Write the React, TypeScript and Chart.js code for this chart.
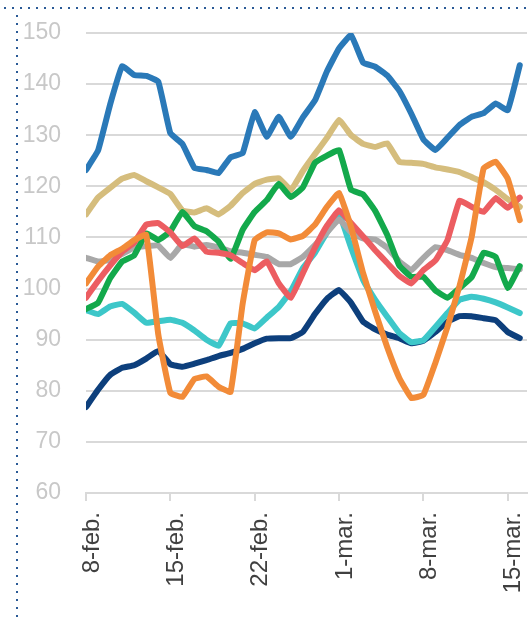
import React, { useEffect, useRef } from 'react';
import { Chart, registerables } from 'chart.js';

Chart.register(...registerables);

// x positions are day numbers counted from 8-feb (0) to 16-mar (36)
const tickDays = [0, 7, 14, 21, 28, 35];
const tickLabels = ['8-feb.', '15-feb.', '22-feb.', '1-mar.', '8-mar.', '15-mar.'];
const yTicks = [60, 70, 80, 90, 100, 110, 120, 130, 140, 150];

const blueSeries = [123.2, 127, 136, 143.5, 141.8, 141.6, 140.5, 130.4, 128.3, 123.6, 123.2, 122.6, 125.7, 126.5, 134.5, 129.7, 133.6, 129.7, 133.5, 136.8, 142.5, 147, 149.6, 144.2, 143.4, 141.7, 138.7, 134.2, 129.2, 127.1, 129.5, 132, 133.6, 134.3, 136.2, 134.9, 143.7];
const tanSeries = [114.5, 117.8, 119.7, 121.5, 122.2, 121, 119.8, 118.5, 115.3, 114.9, 115.7, 114.5, 116.2, 118.7, 120.5, 121.3, 121.6, 119.3, 123, 126.3, 129.5, 133, 130, 128.3, 127.7, 128.4, 124.8, 124.6, 124.4, 123.7, 123.3, 122.8, 121.8, 120.8, 119.3, 117.5, 116];
const greenSeries = [96, 97.2, 102, 105.3, 106.5, 110.8, 109.5, 111.2, 115, 112.2, 111.2, 109.2, 105.8, 111.5, 115, 117.3, 120.5, 117.9, 119.8, 124.6, 126, 127.1, 119.3, 118.4, 115.2, 110.5, 104.5, 102.3, 102.3, 99.6, 98.2, 100.1, 102.2, 107, 106.2, 100.1, 104.4];
const redSeries = [98.2, 101.5, 104.5, 107.2, 109, 112.5, 112.8, 111, 108.3, 109.8, 107.2, 107, 106.5, 105, 103.6, 105.3, 101, 98.2, 103, 108, 112.3, 115.3, 112.8, 110.2, 107.5, 105, 102.5, 101, 103.6, 105.5, 109.5, 117.2, 116, 115, 117.7, 115.8, 117.8];
const orangeSeries = [101, 104.3, 106.5, 107.8, 109.5, 110.5, 91, 79.6, 78.8, 82.3, 82.8, 80.8, 79.8, 97, 109.5, 111, 110.8, 109.6, 110.3, 112.5, 116, 118.7, 112, 103, 95.5, 88.5, 82.5, 78.6, 79.2, 85.5, 92.5, 100.5, 110, 123.5, 124.8, 121.5, 113.4];
const graySeries = [106, 105.3, 105.6, 106.8, 108, 108.3, 108.4, 106, 108.7, 108.2, 108.5, 108, 107.3, 107, 106.6, 106.2, 104.8, 104.8, 106.2, 108.5, 111, 113.5, 111, 109.8, 109.6, 108, 105.3, 103.6, 106, 108.1, 107.5, 106.6, 106, 105, 104.2, 104, 103.8];
const cyanSeries = [95.8, 95, 96.5, 97, 95.3, 93.3, 93.6, 93.9, 93.3, 91.8, 90, 88.8, 93.2, 93.2, 92.2, 94.3, 96.4, 99.5, 104, 107, 111, 114.5, 108, 101.7, 97.8, 94.5, 91.3, 89.5, 89.9, 92.5, 95.2, 97.8, 98.4, 98, 97.3, 96.3, 95.2];
const navySeries = [76.8, 80.2, 83.1, 84.5, 85, 86.3, 87.8, 85.2, 84.7, 85.3, 86, 86.8, 87.4, 88.2, 89.3, 90.2, 90.3, 90.3, 91.5, 95, 98, 99.7, 97.2, 93.5, 92, 91, 90.3, 89.3, 89.8, 91.5, 93.5, 94.6, 94.6, 94.2, 93.8, 91.5, 90.3];

const dottedFrame = {
  id: 'dottedFrame',
  beforeDraw(chart: any) {
    const ctx = chart.ctx;
    ctx.save();
    ctx.fillStyle = '#2b5a96';
    for (let x = 4; x < chart.width; x += 8) ctx.fillRect(x, 7, 2, 2);
    for (let y = 15; y < chart.height; y += 8) ctx.fillRect(16, y, 2, 2);
    ctx.restore();
  },
};

const toPoints = (arr: number[]) => arr.map((v, i) => ({ x: i, y: v }));

export default function App() {
  const ref = useRef<HTMLCanvasElement | null>(null);

  useEffect(() => {
    if (!ref.current) return;
    const mk = (data: number[], color: string, order: number) => ({
      data: toPoints(data),
      borderColor: color,
      backgroundColor: color,
      order,
      fill: false,
    });
    const chart = new Chart(ref.current, {
      type: 'line',
      data: {
        datasets: [
          mk(orangeSeries, '#f28b38', 0),
          mk(redSeries, '#ec5d61', 1),
          mk(greenSeries, '#13a94b', 2),
          mk(blueSeries, '#2a79b8', 3),
          mk(tanSeries, '#d5bd7d', 4),
          mk(graySeries, '#a8a8a8', 5),
          mk(cyanSeries, '#3dc7c9', 6),
          mk(navySeries, '#0d3f7c', 7),
        ],
      },
      options: {
        responsive: false,
        animation: false,
        layout: { padding: { top: 33, right: 4, bottom: 0, left: 0 } },
        plugins: { legend: { display: false }, tooltip: { enabled: false } },
        elements: {
          point: { radius: 0, hoverRadius: 0 },
          line: { borderWidth: 6, tension: 0.1, borderJoinStyle: 'round', borderCapStyle: 'round' },
        },
        scales: {
          x: {
            type: 'linear',
            min: 0,
            max: 36.6,
            afterBuildTicks: (s: any) => {
              s.ticks = tickDays.map((v) => ({ value: v }));
            },
            afterFit: (s: any) => {
              s.height = 127;
              s.paddingLeft = 0;
              s.paddingRight = 0;
            },
            grid: { drawOnChartArea: false, drawTicks: true, tickLength: 8, color: '#d9d9d9', lineWidth: 2 },
            border: { display: true, color: '#d9d9d9', width: 2 },
            ticks: {
              autoSkip: false,
              minRotation: 90,
              maxRotation: 90,
              padding: 11,
              labelOffset: 6,
              color: '#404040',
              font: { family: '"Liberation Sans", Arial, sans-serif', size: 24 },
              callback: (v: any) => {
                const k = tickDays.indexOf(Number(v));
                return k >= 0 ? tickLabels[k] : '';
              },
            },
          },
          y: {
            min: 60,
            max: 150,
            afterBuildTicks: (s: any) => {
              s.ticks = yTicks.map((v) => ({ value: v }));
            },
            afterFit: (s: any) => {
              s.width = 86;
              s.paddingTop = 0;
              s.paddingBottom = 0;
            },
            grid: { color: '#d9d9d9', lineWidth: 2, drawTicks: false },
            border: { display: false },
            ticks: {
              padding: 25,
              color: '#c8c8c8',
              font: { family: '"Liberation Sans Narrow", "Liberation Sans", Arial, sans-serif', size: 23 },
            },
          },
        },
      } as any,
      plugins: [dottedFrame],
    });
    return () => chart.destroy();
  }, []);

  return (
    <div style={{ position: 'absolute', left: 0, top: 0, width: 531, height: 620, background: '#ffffff' }}>
      <canvas ref={ref} width={531} height={620} />
    </div>
  );
}
